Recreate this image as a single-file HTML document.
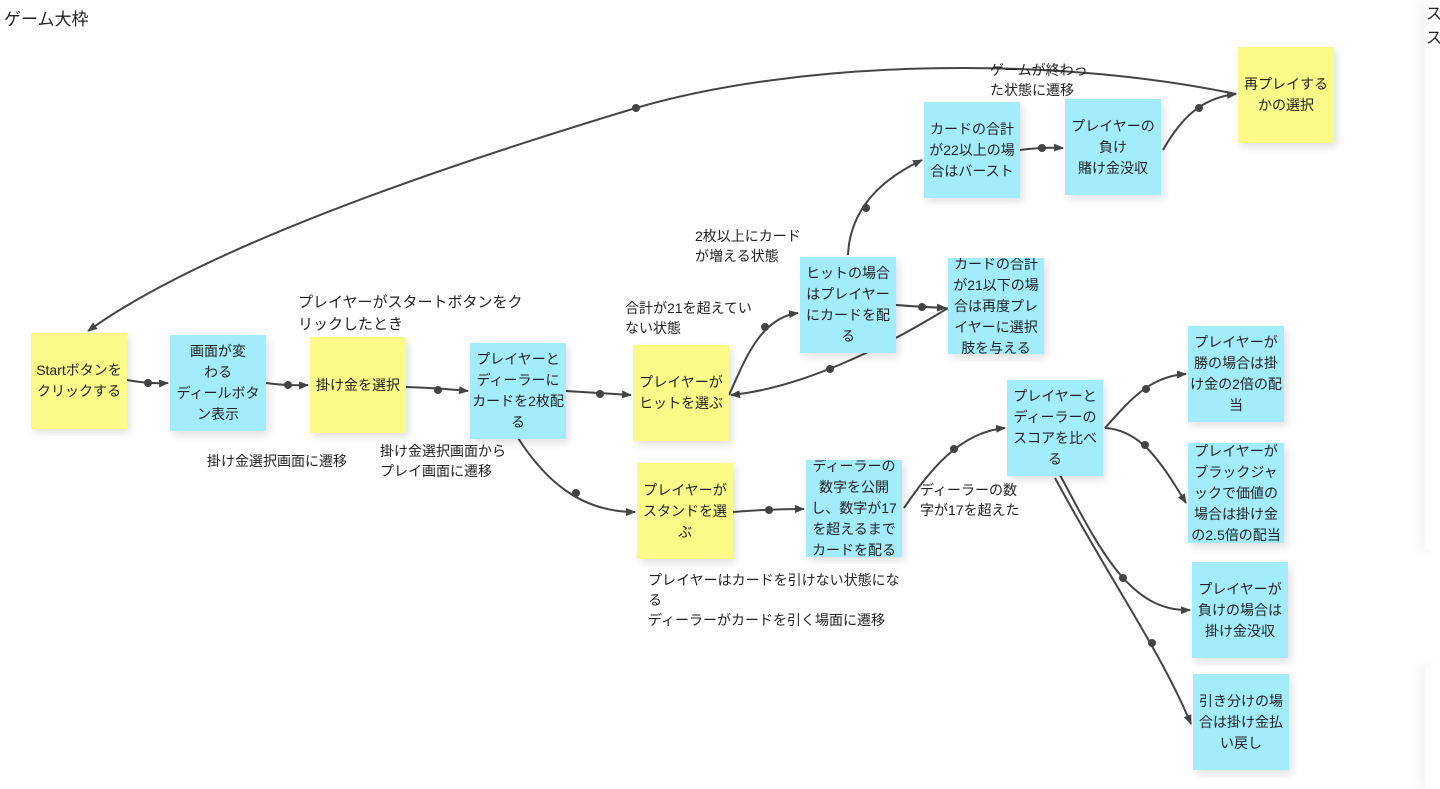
<!DOCTYPE html>
<html><head><meta charset="utf-8"><style>
html,body{margin:0;padding:0;background:#fff;}
body{width:1440px;height:789px;position:relative;overflow:hidden;font-family:"Liberation Sans","Noto Sans CJK JP",sans-serif;color:#222;}
.b{position:absolute;width:96px;height:96px;display:flex;align-items:center;justify-content:center;text-align:center;font-size:14px;line-height:21px;box-shadow:3px 4px 8px rgba(0,0,0,0.12);overflow:hidden;}
.y{background:#fafa88;}
.c{background:#a2ecfc;}
.l{position:absolute;font-size:14px;line-height:20px;white-space:nowrap;color:#222;}
svg{position:absolute;left:0;top:0;}
</style></head><body>
<div class="l" style="left:4px;top:10px;font-size:17px;">ゲーム大枠</div>

<div style="position:absolute;left:1425px;top:0;width:15px;height:550px;background:#fff;box-shadow:-6px 0 12px rgba(0,0,0,0.05);"></div>
<div style="position:absolute;left:1425px;top:665px;width:15px;height:124px;background:#fff;box-shadow:-6px 0 12px rgba(0,0,0,0.05);"></div>
<div class="l" style="left:1426px;top:3px;font-size:16px;line-height:24px;">ス<br>ス</div>

<svg width="1440" height="789">
<defs><marker id="a" markerWidth="10" markerHeight="10" refX="9" refY="5" orient="auto" markerUnits="userSpaceOnUse"><path d="M0,1 L10,5 L0,9 z" fill="#444"/></marker></defs>
<g fill="none" stroke="#444" stroke-width="2" marker-end="url(#a)">
<path d="M127,380 Q148,384 168,383"/>
<path d="M266,383 Q288,386 308,385"/>
<path d="M406,387 Q438,388 468,391"/>
<path d="M566,391 Q600,393 631,395"/>
<path d="M518,438 C545,480 580,512 635,512"/>
<path d="M733,512 Q769,509 804,509"/>
<path d="M729,395 C745,360 760,318 798,313"/>
<path d="M848,255 C850,210 880,180 922,160"/>
<path d="M1020,150 Q1042,147 1063,148"/>
<path d="M1163,150 C1180,120 1200,98 1236,94"/>
<path d="M1236,94 C1050,55 800,60 636,108 C430,170 200,250 88,331"/>
<path d="M896,305 Q922,307 946,308"/>
<path d="M948,308 C880,350 800,388 731,395"/>
<path d="M904,508 C930,470 960,432 1005,428"/>
<path d="M1105,428 C1130,400 1150,376 1186,374"/>
<path d="M1105,428 C1140,430 1160,460 1186,503"/>
<path d="M1060,475 C1100,550 1130,612 1190,610"/>
<path d="M1055,478 C1110,580 1160,650 1191,724"/>
</g>
<g fill="#444">
<circle cx="148" cy="383" r="4"/><circle cx="288" cy="385" r="4"/><circle cx="438" cy="390" r="4"/>
<circle cx="600" cy="394" r="4"/><circle cx="576" cy="493" r="4"/><circle cx="769" cy="510" r="4"/>
<circle cx="765" cy="327" r="4"/><circle cx="866" cy="208" r="4"/><circle cx="1042" cy="148" r="4"/>
<circle cx="1199" cy="108" r="4"/><circle cx="636" cy="108" r="4"/><circle cx="922" cy="307" r="4"/>
<circle cx="830" cy="369" r="4"/><circle cx="954" cy="449" r="4"/><circle cx="1146" cy="389" r="4"/>
<circle cx="1145" cy="445" r="4"/><circle cx="1123" cy="578" r="4"/><circle cx="1152" cy="643" r="4"/>
</g>
</svg>

<div class="b y" style="left:31px;top:333px;">Startボタンを<br>クリックする</div>
<div class="b c" style="left:170px;top:335px;">画面が変<br>わる<br>ディールボタ<br>ン表示</div>
<div class="b y" style="left:310px;top:337px;">掛け金を選択</div>
<div class="b c" style="left:470px;top:343px;">プレイヤーと<br>ディーラーに<br>カードを2枚配<br>る</div>
<div class="b y" style="left:633px;top:345px;">プレイヤーが<br>ヒットを選ぶ</div>
<div class="b y" style="left:637px;top:463px;">プレイヤーが<br>スタンドを選<br>ぶ</div>
<div class="b c" style="left:806px;top:460px;height:97px;">ディーラーの<br>数字を公開<br>し、数字が17<br>を超えるまで<br>カードを配る</div>
<div class="b c" style="left:800px;top:257px;">ヒットの場合<br>はプレイヤー<br>にカードを配<br>る</div>
<div class="b c" style="left:924px;top:102px;">カードの合計<br>が22以上の場<br>合はバースト</div>
<div class="b c" style="left:1065px;top:99px;">プレイヤーの<br>負け<br>賭け金没収</div>
<div class="b y" style="left:1238px;top:47px;">再プレイする<br>かの選択</div>
<div class="b c" style="left:948px;top:258px;">カードの合計<br>が21以下の場<br>合は再度プレ<br>イヤーに選択<br>肢を与える</div>
<div class="b c" style="left:1007px;top:380px;">プレイヤーと<br>ディーラーの<br>スコアを比べ<br>る</div>
<div class="b c" style="left:1188px;top:326px;">プレイヤーが<br>勝の場合は掛<br>け金の2倍の配<br>当</div>
<div class="b c" style="left:1188px;top:443px;height:100px;">プレイヤーが<br>ブラックジャ<br>ックで価値の<br>場合は掛け金<br>の2.5倍の配当</div>
<div class="b c" style="left:1192px;top:562px;">プレイヤーが<br>負けの場合は<br>掛け金没収</div>
<div class="b c" style="left:1193px;top:674px;">引き分けの場<br>合は掛け金払<br>い戻し</div>

<div class="l" style="left:298px;top:292px;font-size:15px;line-height:22px;">プレイヤーがスタートボタンをク<br>リックしたとき</div>
<div class="l" style="left:207px;top:451px;">掛け金選択画面に遷移</div>
<div class="l" style="left:380px;top:441px;">掛け金選択画面から<br>プレイ画面に遷移</div>
<div class="l" style="left:625px;top:298px;">合計が21を超えてい<br>ない状態</div>
<div class="l" style="left:695px;top:226px;">2枚以上にカード<br>が増える状態</div>
<div class="l" style="left:990px;top:60px;">ゲームが終わっ<br>た状態に遷移</div>
<div class="l" style="left:920px;top:480px;">ディーラーの数<br>字が17を超えた</div>
<div class="l" style="left:648px;top:570px;">プレイヤーはカードを引けない状態にな<br>る<br>ディーラーがカードを引く場面に遷移</div>
</body></html>
